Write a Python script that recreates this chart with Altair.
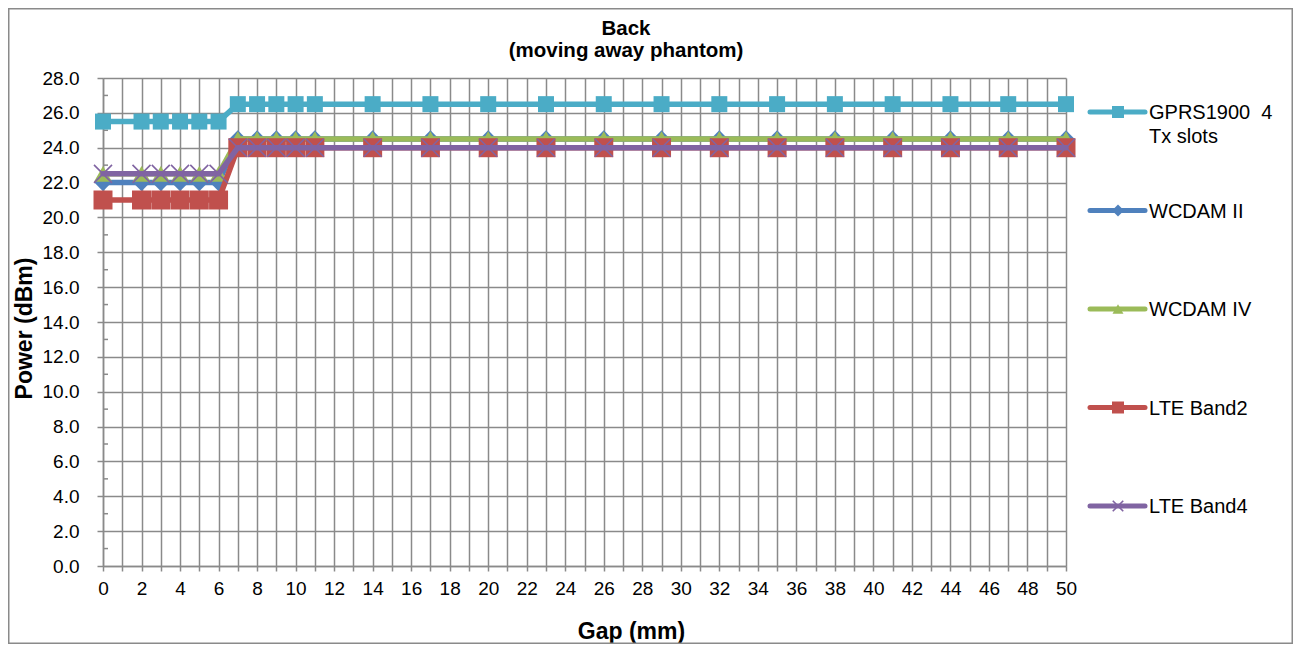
import altair as alt
import pandas as pd

# ---------------- data ----------------
gap = [0, 2, 3, 4, 5, 6, 7, 8, 9, 10, 11, 14, 17, 20, 23, 26, 29, 32, 35, 38, 41, 44, 47, 50]

gprs1900 = [25.5, 25.5, 25.5, 25.5, 25.5, 25.5, 26.5, 26.5, 26.5, 26.5, 26.5, 26.5,
            26.5, 26.5, 26.5, 26.5, 26.5, 26.5, 26.5, 26.5, 26.5, 26.5, 26.5, 26.5]
wcdam_ii = [22.0, 22.0, 22.0, 22.0, 22.0, 22.0, 24.5, 24.5, 24.5, 24.5, 24.5, 24.5,
            24.5, 24.5, 24.5, 24.5, 24.5, 24.5, 24.5, 24.5, 24.5, 24.5, 24.5, 24.5]
wcdam_iv = [22.5, 22.5, 22.5, 22.5, 22.5, 22.5, 24.5, 24.5, 24.5, 24.5, 24.5, 24.5,
            24.5, 24.5, 24.5, 24.5, 24.5, 24.5, 24.5, 24.5, 24.5, 24.5, 24.5, 24.5]
lte_band2 = [21.0, 21.0, 21.0, 21.0, 21.0, 21.0, 24.0, 24.0, 24.0, 24.0, 24.0, 24.0,
             24.0, 24.0, 24.0, 24.0, 24.0, 24.0, 24.0, 24.0, 24.0, 24.0, 24.0, 24.0]
lte_band4 = [22.5, 22.5, 22.5, 22.5, 22.5, 22.5, 24.0, 24.0, 24.0, 24.0, 24.0, 24.0,
             24.0, 24.0, 24.0, 24.0, 24.0, 24.0, 24.0, 24.0, 24.0, 24.0, 24.0, 24.0]

series_names = ["GPRS1900  4 Tx slots", "WCDAM II", "WCDAM IV", "LTE Band2", "LTE Band4"]
legend_labels = ["GPRS1900\u00a0 4\nTx slots", "WCDAM II", "WCDAM IV", "LTE Band2", "LTE Band4"]
series_values = [gprs1900, wcdam_ii, wcdam_iv, lte_band2, lte_band4]

x_ticks = list(range(0, 51))
y_major = [0, 2, 4, 6, 8, 10, 12, 14, 16, 18, 20, 22, 24, 26, 28]
y_minor = [1, 3, 5, 7, 9, 11, 13, 15, 17, 19, 21, 23, 25, 27]

title_lines = ["Back", "(moving away phantom)"]

# ---------------- styles ----------------
colors = ["#4BACC6", "#4F81BD", "#9BBB59", "#C0504D", "#8064A2"]
shapes = ["square", "diamond", "triangle-up", "square", "M-1,-1L1,1M1,-1L-1,1"]
sizes = [256, 300, 324, 361, 324]
legend_sizes = [144, 144, 120, 144, 110]
FONT = "Liberation Sans"
GRID = "#8a8a8a"

rows = []
for name, vals in zip(series_names, series_values):
    for g, v in zip(gap, vals):
        rows.append({"gap": g, "value": v, "series": name})
df = pd.DataFrame(rows)

W, H = 963, 488

X = alt.X(
    "gap:Q",
    scale=alt.Scale(domain=[0, 50], nice=False, zero=False),
    axis=alt.Axis(
        values=x_ticks,
        labelExpr="datum.value % 2 == 0 ? datum.label : ''",
        labelOverlap=False,
        labelFlush=False,
        grid=True, gridColor=GRID, gridWidth=1.5,
        domainColor=GRID, domainWidth=1.5,
        tickColor=GRID, tickWidth=1.5, tickSize=5,
        labelFont=FONT, labelFontSize=19, labelColor="black", labelPadding=8,
        title="Gap (mm)", titleFont=FONT, titleFontSize=23, titleFontWeight="bold",
        titleColor="black", titleX=528, titleY=54, titleBaseline="top",
    ),
)
Y = alt.Y(
    "value:Q",
    scale=alt.Scale(domain=[0, 28], nice=False, zero=False),
    axis=alt.Axis(
        values=y_major,
        format=".1f",
        grid=True, gridColor=GRID, gridWidth=1.5,
        domainColor=GRID, domainWidth=1.5,
        tickColor=GRID, tickWidth=1.5, tickSize=6,
        labelFont=FONT, labelFontSize=19, labelColor="black", labelPadding=18,
        title="Power (dBm)", titleFont=FONT, titleFontSize=23, titleFontWeight="bold",
        titleColor="black", titleAngle=270, titleX=-72, titleY=250,
        titleBaseline="alphabetic",
    ),
)

main_layers = []
minor = alt.Chart(pd.DataFrame({"value": y_minor})).mark_rule(
    color=GRID, strokeWidth=1.5
).encode(y=Y, x=alt.value(0), x2=alt.value(5))
main_layers.append(minor)

for name, c, shp, sz in zip(series_names, colors, shapes, sizes):
    base = alt.Chart(df).transform_filter(alt.datum.series == name)
    line = base.mark_line(color=c, strokeWidth=5.5, strokeJoin="round", strokeCap="round").encode(x=X, y=Y)
    if shp.startswith("M"):
        pts = base.mark_point(shape=shp, size=sz, filled=False, color=c, strokeWidth=1.6, opacity=1).encode(x=X, y=Y)
    else:
        pts = base.mark_point(shape=shp, size=sz, filled=True, color=c, opacity=1).encode(x=X, y=Y)
    main_layers += [line, pts]

main = alt.layer(*main_layers)

# ---------------- legend ----------------
leg_df = pd.DataFrame({"series": series_names, "label": legend_labels})
# point scale with outer padding 0.5 step: entries land at 34 .. 428 (plot coords)
LY = alt.Y("series:N",
           scale=alt.Scale(type="point", domain=series_names, range=[-15.25, 477.25], paddingOuter=0.5),
           axis=None)
leg_layers = []
for name, c, shp, sz in zip(series_names, colors, shapes, legend_sizes):
    b = alt.Chart(leg_df).transform_filter(alt.datum.series == name)
    leg_layers.append(
        b.mark_rule(color=c, strokeWidth=5, strokeCap="round").encode(
            y=LY, x=alt.value(987), x2=alt.value(1042))
    )
    if shp.startswith("M"):
        leg_layers.append(b.mark_point(shape=shp, size=sz, filled=False, color=c, strokeWidth=1.6, opacity=1)
                          .encode(y=LY, x=alt.value(1015)))
    else:
        leg_layers.append(b.mark_point(shape=shp, size=sz, filled=True, color=c, opacity=1)
                          .encode(y=LY, x=alt.value(1015)))
leg_layers.append(
    alt.Chart(leg_df).mark_text(
        align="left", baseline="top", dy=-9, font=FONT, fontSize=20, color="black",
        lineBreak="\n", lineHeight=24,
    ).encode(y=LY, x=alt.value(1046), text="label:N")
)
legend = alt.layer(*leg_layers)

one = pd.DataFrame({"k": [0]})
title = alt.Chart(one).mark_text(
    text=title_lines, font=FONT, fontSize=20.5, fontWeight="bold", color="black",
    align="center", baseline="alphabetic", lineHeight=22,
).encode(x=alt.value(523), y=alt.value(-43))

border = alt.Chart(one).mark_rect(
    fillOpacity=0, stroke="#8a8a8a", strokeWidth=1.5
).encode(x=alt.value(-94.25), x2=alt.value(W + 227 - 0.75),
         y=alt.value(-69.25), y2=alt.value(H + 78 - 0.75))

chart = alt.layer(main, alt.layer(legend, title, border)).resolve_scale(y="independent").properties(
    width=W, height=H,
    padding={"left": 95, "top": 70, "right": 227, "bottom": 78},
    autosize=alt.AutoSizeParams(type="none"),
    background="white",
).configure_view(stroke=None)

chart.save("out.html", embed_options={"renderer": "svg", "actions": False})
